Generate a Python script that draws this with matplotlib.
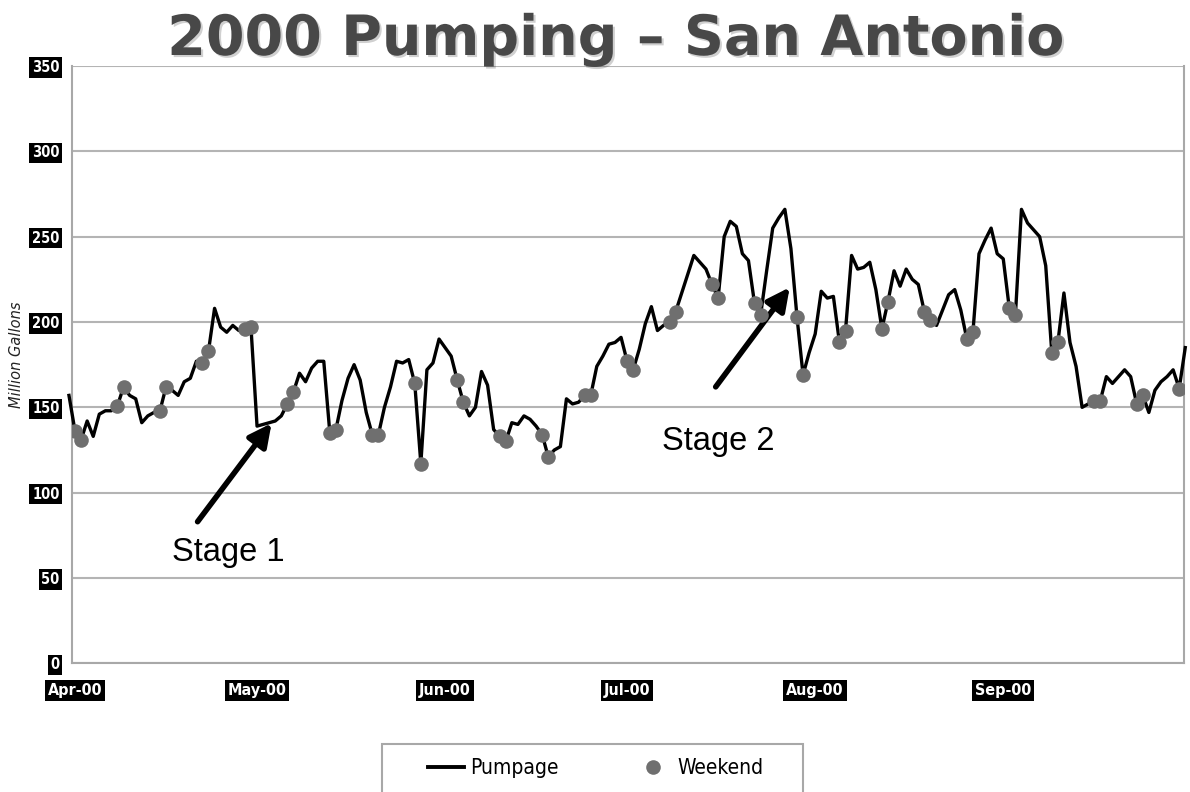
import numpy as np
import pandas as pd
import matplotlib
matplotlib.use('Agg')
import matplotlib.pyplot as plt
import matplotlib.patheffects as pe
from matplotlib import font_manager
from matplotlib.patches import Rectangle
from matplotlib.lines import Line2D

# daily pumpage (million gallons)
mar_tail = [157]
apr = [136, 131, 142, 133, 146, 148, 148, 151, 162, 157, 155, 141, 145, 147, 148,
       162, 160, 157, 165, 167, 177, 176, 183, 208, 197, 194, 198, 195, 196, 197]
may = [139, 140, 141, 142, 145, 152, 159, 170, 165, 173, 177, 177, 135, 137, 154,
       167, 175, 166, 147, 134, 134, 150, 162, 177, 176, 178, 164, 117, 172, 176, 190]
jun = [185, 180, 166, 153, 145, 150, 171, 163, 137, 133, 130, 141, 140, 145, 143,
       139, 134, 121, 125, 127, 155, 152, 153, 157, 157, 174, 180, 187, 188, 191]
jul = [177, 172, 184, 199, 209, 195, 198, 200, 206, 217, 228, 239, 235, 231, 222,
       214, 250, 259, 256, 240, 236, 211, 204, 230, 255, 261, 266, 243, 203, 169, 182]
aug = [193, 218, 214, 215, 188, 195, 239, 231, 232, 235, 219, 196, 212, 230, 221,
       231, 225, 222, 206, 201, 198, 207, 216, 219, 207, 190, 194, 240, 248, 255, 240]
sep = [237, 208, 204, 266, 258, 254, 250, 233, 182, 188, 217, 188, 174, 150, 152,
       154, 154, 168, 164, 168, 172, 168, 152, 157, 147, 160, 165, 168, 172, 161]
oct_head = [185]

month_labels = ['Apr-00', 'May-00', 'Jun-00', 'Jul-00', 'Aug-00', 'Sep-00']
month_starts = ['2000-04-01', '2000-05-01', '2000-06-01', '2000-07-01', '2000-08-01', '2000-09-01']
y_ticks = [0, 50, 100, 150, 200, 250, 300, 350]

values = np.array(mar_tail + apr + may + jun + jul + aug + sep + oct_head, dtype=float)
dates = pd.date_range('2000-03-31', periods=len(values), freq='D')
in_range = (dates >= '2000-04-01') & (dates <= '2000-09-30')
weekend = (dates.dayofweek >= 5) & in_range

# pick a narrow face if one is installed
fonts = font_manager.fontManager.ttflist
if any(f.name == 'Liberation Sans Narrow' for f in fonts):
    narrow = dict(family='Liberation Sans Narrow')
elif any(f.name == 'DejaVu Sans' and f.stretch == 'condensed' for f in fonts):
    narrow = dict(family='DejaVu Sans', stretch='condensed')
else:
    narrow = dict(family='Liberation Sans')
narrow_ok = narrow['family'] != 'Liberation Sans'

fig = plt.figure(figsize=(11.9, 7.92), dpi=100)
ax = fig.add_axes([0.0605, 0.1624, 0.9345, 0.7543])

ax.plot(dates, values, color='black', lw=2.4, zorder=3, clip_on=False)
ax.plot(dates[weekend], values[weekend], 'o', color='#6f6f6f', ms=10.5,
        mec='none', zorder=4)

start = pd.Timestamp('2000-04-01')
ax.set_xlim(start - pd.Timedelta(hours=12), start + pd.Timedelta(days=182.8))
ax.set_ylim(0, 350)

ax.set_yticks(y_ticks)
ax.set_yticklabels([str(v) for v in y_ticks])
ax.set_xticks(pd.to_datetime(month_starts))
ax.set_xticklabels(month_labels)

ax.yaxis.grid(True, color='#b4b4b4', lw=1.5)
ax.set_axisbelow(True)
for s in ax.spines.values():
    s.set_color('#a8a8a8')
    s.set_linewidth(1.5)
ax.spines['top'].set_visible(False)

ax.tick_params(axis='both', length=0, colors='white')
ax.tick_params(axis='y', pad=9)
ax.tick_params(axis='x', pad=14)
for lab in ax.get_yticklabels() + ax.get_xticklabels():
    lab.set_family(narrow['family'])
    if 'stretch' in narrow:
        lab.set_stretch(narrow['stretch'])
    lab.set_fontweight('bold')
    lab.set_bbox(dict(boxstyle='square,pad=0.18', fc='black', ec='none'))
for lab in ax.get_yticklabels():
    lab.set_fontsize(10.5 if narrow_ok else 9)
for lab in ax.get_xticklabels():
    lab.set_fontsize(11.5 if narrow_ok else 10.5)

fig.text(17 / 1190, 1 - 355 / 792, 'Million Gallons', rotation=90, style='italic',
         fontsize=10.5, color='#222222', ha='center', va='center')

# title
fig.text(0.517, 1 - 55 / 792, '2000 Pumping \u2013 San Antonio', ha='center',
         va='baseline', fontsize=40, fontweight='bold', color='#484848',
         family='DejaVu Sans',
         path_effects=[pe.SimplePatchShadow(offset=(1.5, -1.5), alpha=0.2),
                       pe.Normal()])

# stage annotations
def day(n):
    return start + pd.Timedelta(days=n)

arrow = dict(arrowstyle='-|>', color='black', lw=4, mutation_scale=34,
             shrinkA=0, shrinkB=0)
ax.annotate('', xy=(day(32.4), 140.7), xytext=(day(20.2), 83), arrowprops=arrow)
ax.annotate('', xy=(day(117.8), 220.3), xytext=(day(105.6), 162), arrowprops=arrow)
ax.text(day(16.0), 65, 'Stage 1', fontsize=23.5, family='Liberation Sans',
        ha='left', va='center')
ax.text(day(96.7), 130, 'Stage 2', fontsize=23.5, family='Liberation Sans',
        ha='left', va='center')

# legend with a frame running off the bottom edge
fig.patches.append(Rectangle((382 / 1190, -0.02), 421 / 1190, 0.02 + 1 - 744 / 792,
                             transform=fig.transFigure, fill=False,
                             ec='#a8a8a8', lw=1.5))
handles = [Line2D([], [], color='black', lw=2.8),
           Line2D([], [], ls='none', marker='o', color='#6f6f6f', ms=10.5, mec='none')]
leg_prop = {'family': narrow['family'], 'size': 15 if narrow_ok else 14}
if 'stretch' in narrow:
    leg_prop['stretch'] = narrow['stretch']
fig.legend(handles, ['Pumpage', 'Weekend'], loc='center left',
           bbox_to_anchor=(418 / 1190, 1 - 768 / 792), ncol=2, frameon=False,
           borderpad=0, handlelength=1.7, handletextpad=0.3, columnspacing=3.7,
           prop=leg_prop)

fig.savefig('out.png', dpi=100)
